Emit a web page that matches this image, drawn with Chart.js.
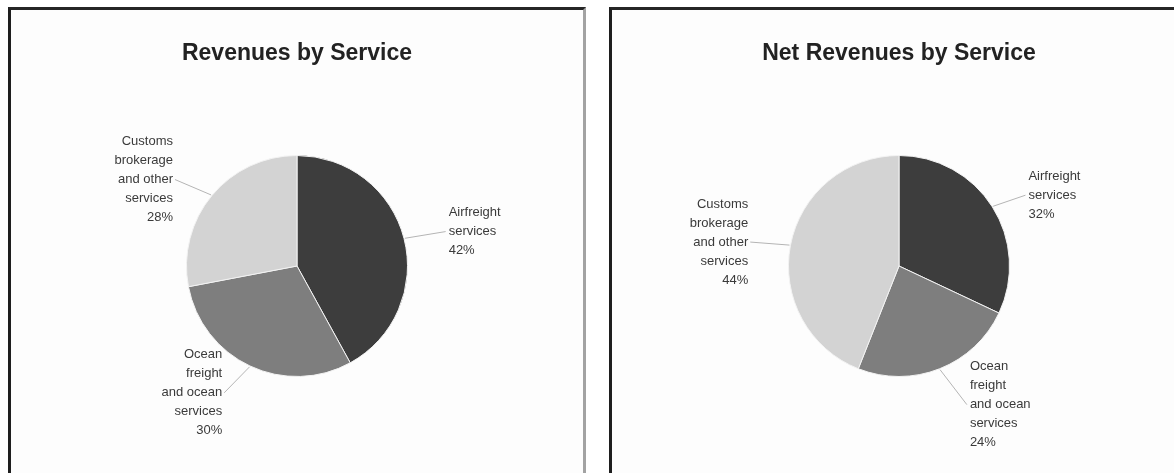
<!DOCTYPE html>
<html>
<head>
<meta charset="utf-8">
<title>Revenues by Service</title>
<script src="https://cdn.jsdelivr.net/npm/chart.js@4.4.0/dist/chart.umd.min.js"></script>
<style>
  html, body { margin: 0; padding: 0; background: #fff; overflow: hidden; width: 1174px; height: 473px; }
  .panel {
    position: absolute; top: 7px; height: 480px; background: #fdfdfd;
    border-top: 3px solid #262626; border-left: 3px solid #1e1e1e;
  }
  #panel1 { left: 8px; width: 572px; border-right: 3px solid #a3a3a3; }
  #panel2 { left: 609px; width: 600px; }
  canvas { position: absolute; top: 10px; }
  #revChart { left: 12px; }
  #netChart { left: 613px; }
</style>
</head>
<body>
<div class="panel" id="panel1"></div>
<div class="panel" id="panel2"></div>
<canvas id="revChart" width="570" height="463"></canvas>
<canvas id="netChart" width="572" height="463"></canvas>
<script>
// service names, one entry per slice, already broken into label lines
const services = [
    ['Airfreight', 'services'],
    ['Ocean', 'freight', 'and ocean', 'services'],
    ['Customs', 'brokerage', 'and other', 'services']
];
const revenueShare = [42, 30, 28];     // % of revenues
const netRevenueShare = [32, 24, 44];  // % of net revenues

const sliceColors = ['#3d3d3d', '#7e7e7e', '#d3d3d3'];
const FONT = "'Liberation Sans', Arial, sans-serif";

// outside labels with leader lines, placed from each arc's mid angle
const sliceLabels = {
    id: 'sliceLabels',
    afterDatasetsDraw(chart, args, opts) {
        const ctx = chart.ctx;
        const meta = chart.getDatasetMeta(0);
        const values = chart.data.datasets[0].data;
        ctx.save();
        ctx.font = '13px ' + FONT;
        ctx.textBaseline = 'middle';
        meta.data.forEach((arc, i) => {
            const mid = (arc.startAngle + arc.endAngle) / 2;
            const cos = Math.cos(mid), sin = Math.sin(mid);
            const shift = opts.shift[i] || [0, 0];
            const ax = arc.x + cos * (arc.outerRadius + 44) + shift[0];
            const ay = arc.y + sin * (arc.outerRadius + 44) + shift[1];
            const right = ax > arc.x;
            const lines = services[i].concat(values[i] + '%');

            // leader line
            ctx.strokeStyle = '#b4b4b4';
            ctx.lineWidth = 1;
            ctx.beginPath();
            ctx.moveTo(arc.x + cos * (arc.outerRadius + 1), arc.y + sin * (arc.outerRadius + 1));
            ctx.lineTo(right ? ax - 3 : ax + 2, ay);
            ctx.stroke();

            ctx.fillStyle = '#3a3a3a';
            ctx.textAlign = right ? 'left' : 'right';
            const lh = 19;
            const top = ay - (lines.length - 1) * lh / 2;
            lines.forEach((t, k) => ctx.fillText(t, ax, top + k * lh));
        });
        ctx.restore();
    }
};

function makePie(id, titleText, values, shift) {
    const ctx = document.getElementById(id);
    return new Chart(ctx, {
        type: 'pie',
        data: {
            labels: services.map(s => s.join(' ')),
            datasets: [{
                data: values,
                backgroundColor: sliceColors,
                borderColor: '#f2f2f2',
                borderWidth: 1
            }]
        },
        options: {
            responsive: false,
            animation: false,
            events: [],
            layout: { padding: { bottom: 96 } },
            plugins: {
                legend: { display: false },
                tooltip: { enabled: false },
                title: {
                    display: true,
                    text: titleText,
                    color: '#222',
                    font: { family: FONT, size: 23, weight: 'bold', lineHeight: 1.2 },
                    padding: { top: 30, bottom: 87.4 }
                },
                sliceLabels: { shift: shift }
            }
        },
        plugins: [sliceLabels]
    });
}

makePie('revChart', 'Revenues by Service', revenueShare, [[2, 4], [-9, -13], [-5, 12]]);
makePie('netChart', 'Net Revenues by Service', netRevenueShare, [[-1, 12], [14, -5], [1, 5]]);
</script>
</body>
</html>
